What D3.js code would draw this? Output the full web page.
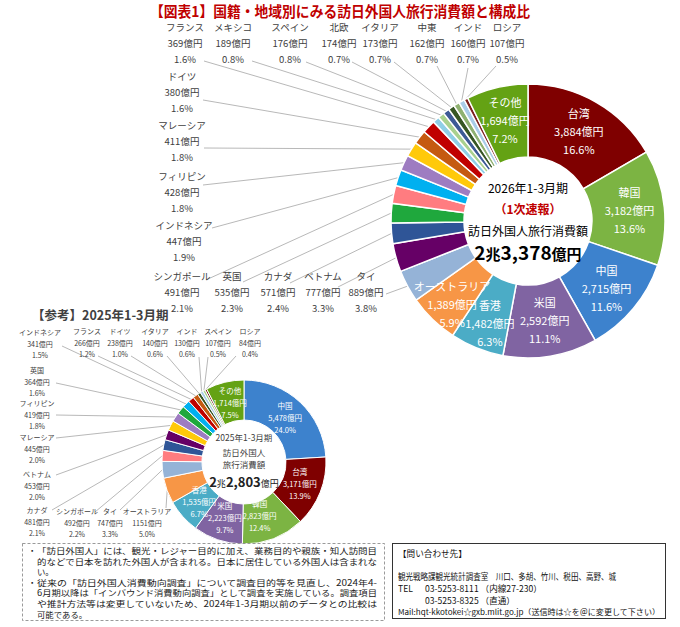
<!DOCTYPE html>
<html>
<head>
<meta charset="utf-8">
<script src="https://cdn.jsdelivr.net/npm/d3@7"></script>
<style>
html, body { margin: 0; padding: 0; background: #fff; }
svg { display: block; font-family: "Noto Sans CJK JP", "Noto Sans", sans-serif; }
</style>
</head>
<body>
<div id="wrap"></div>
<script>
// 2026年1-3月期（1次速報）
const names26 = ["台湾", "韓国", "中国", "米国", "香港", "オーストラリア", "タイ", "ベトナム", "カナダ", "英国",
    "シンガポール", "インドネシア", "フィリピン", "マレーシア", "ドイツ", "フランス", "メキシコ", "スペイン",
    "北欧", "イタリア", "中東", "インド", "ロシア", "その他"];
const values26 = [3884, 3182, 2715, 2592, 1482, 1389, 889, 777, 571, 535, 491, 447, 428, 411, 380, 369,
    189, 176, 174, 173, 162, 160, 107, 1694];
const total26 = 23378;

// 【参考】2025年1-3月期
const names25 = ["中国", "台湾", "韓国", "米国", "香港", "オーストラリア", "タイ", "シンガポール", "カナダ",
    "ベトナム", "マレーシア", "フィリピン", "英国", "インドネシア", "フランス", "ドイツ", "イタリア", "インド",
    "スペイン", "ロシア", "その他"];
const values25 = [5478, 3171, 2823, 2223, 1535, 1151, 747, 492, 481, 453, 445, 419, 364, 341, 266, 238,
    140, 130, 107, 84, 1714];
const total25 = 22803;

// one colour per country, same in both donuts
const countryColors = {
    "台湾": "#7F0000", "韓国": "#7CB443", "中国": "#3D82CD", "米国": "#8064A2", "香港": "#4BACC6",
    "オーストラリア": "#F79646", "タイ": "#95B3D7", "ベトナム": "#660066", "カナダ": "#2F5597",
    "英国": "#1FA83D", "シンガポール": "#FF7C80", "インドネシア": "#00B0F0", "フィリピン": "#9E7CC1",
    "マレーシア": "#FFC90A", "ドイツ": "#C55A11", "フランス": "#C00000", "メキシコ": "#8FCFE6",
    "スペイン": "#A9D18E", "北欧": "#3D5A95", "イタリア": "#375623", "中東": "#8FB171",
    "インド": "#A9CCE8", "ロシア": "#7B1E1E", "その他": "#64A214"
};

// outside label placement: [name, label x, first line y, leader start x, leader start y]
const outside26 = [
    ["フランス", 185, 28, 204, 61], ["メキシコ", 233, 28, 252, 61], ["スペイン", 290, 28, 306, 62],
    ["北欧", 339, 28, 352, 62], ["イタリア", 380, 28, 394, 62], ["中東", 427, 28, 437, 66],
    ["インド", 468, 28, 468, 68], ["ロシア", 507, 28, 496, 66],
    ["ドイツ", 182, 77, 203, 100], ["マレーシア", 182, 126, 204, 148], ["フィリピン", 182, 177, 203, 185],
    ["インドネシア", 184, 226, 212, 228],
    ["シンガポール", 182, 277, 208, 279], ["英国", 232, 277, 243, 282], ["カナダ", 278, 277, 290, 283],
    ["ベトナム", 323, 277, 338, 287], ["タイ", 366, 277, 386, 294]
];
const outside25 = [
    ["インドネシア", 40, 333, 62, 346], ["英国", 37, 371, 56, 383], ["フィリピン", 37, 404, 56, 415],
    ["マレーシア", 37, 438, 56, 438], ["ベトナム", 37, 475, 56, 475], ["カナダ", 37, 511, 52, 510],
    ["シンガポール", 77, 512, 95, 512], ["タイ", 110, 512, 120, 510], ["オーストラリア", 147, 512, 166, 508],
    ["フランス", 87, 332, 98, 356], ["ドイツ", 120, 332, 131, 356], ["イタリア", 155, 332, 167, 356],
    ["インド", 187, 332, 199, 357], ["スペイン", 218, 332, 208, 357], ["ロシア", 250, 332, 236, 356]
];
// nudges for some inside labels: [name, dx, dy]
const nudge26 = [["中国", 0, 3], ["香港", 0, 9], ["オーストラリア", -5, 11]];
const nudge25 = [["韓国", -6, -2]];

const notes = [
    ["・", "「訪日外国人」には、観光・レジャー目的に加え、業務目的や親族・知人訪問目"],
    ["", "的などで日本を訪れた外国人が含まれる。日本に居住している外国人は含まれな"],
    ["", "い。"],
    ["・", "従来の「訪日外国人消費動向調査」について調査目的等を見直し、2024年4-"],
    ["", "6月期以降は「インバウンド消費動向調査」として調査を実施している。調査項目"],
    ["", "や推計方法等は変更していないため、2024年1-3月期以前のデータとの比較は"],
    ["", "可能である。"]
];

const W = 680, H = 627;
const fmtComma = d3.format(",");
const fmtPct = d3.format(".1%");

const svg = d3.select("#wrap").append("svg")
    .attr("width", W).attr("height", H);

svg.append("text")
    .attr("x", 340).attr("y", 17)
    .attr("text-anchor", "middle")
    .attr("font-size", 14.5).attr("font-weight", "bold")
    .attr("fill", "#C00000")
    .attr("textLength", 380).attr("lengthAdjust", "spacingAndGlyphs")
    .text("【図表1】国籍・地域別にみる訪日外国人旅行消費額と構成比");

function drawDonut(o) {
    const data = o.names.map((n, i) => ({ name: n, value: o.values[i] }));
    const pie = d3.pie().sort(null).value(d => d.value);
    const arcs = pie(data);
    const arc = d3.arc().innerRadius(o.r0).outerRadius(o.r1);
    const edge = d3.arc().innerRadius(o.r1).outerRadius(o.r1);
    const mid = d3.arc().innerRadius(o.rLab).outerRadius(o.rLab);
    const shift = new Map(o.nudge.map(d => [d[0], [d[1], d[2]]]));

    const g = svg.append("g").attr("transform", `translate(${o.cx},${o.cy})`);

    // leader lines first so slices sit on top
    const outsideNames = new Set(o.outside.map(d => d[0]));
    const lines = svg.append("g").lower();
    o.outside.forEach(([name, lx, ly, sx, sy]) => {
        const a = arcs.find(d => d.data.name === name);
        const [ex, ey] = edge.centroid(a);
        lines.append("line")
            .attr("x1", sx).attr("y1", sy)
            .attr("x2", o.cx + ex).attr("y2", o.cy + ey)
            .attr("stroke", "#A6A6A6").attr("stroke-width", 0.8);
    });

    g.selectAll("path").data(arcs).join("path")
        .attr("d", arc)
        .attr("fill", d => countryColors[d.data.name])
        .attr("stroke", "#fff")
        .attr("stroke-width", o.strokeW);

    // labels inside the ring
    const inside = arcs.filter(d => !outsideNames.has(d.data.name));
    const pos = d => {
        const c = mid.centroid(d);
        const s = shift.get(d.data.name) || [0, 0];
        return [c[0] + s[0], c[1] + s[1]];
    };
    const tIn = g.selectAll("text.in").data(inside).join("text")
        .attr("class", "in")
        .attr("text-anchor", "middle")
        .attr("font-size", o.fIn)
        .attr("fill", "#fff");
    [d => d.data.name, d => fmtComma(d.data.value) + "億円", d => fmtPct(d.data.value / o.total)]
        .forEach((f, k) => {
            tIn.append("tspan")
                .attr("x", d => pos(d)[0])
                .attr("y", d => pos(d)[1] + (k - 1) * o.gapIn)
                .attr("dy", "0.35em")
                .text(f);
        });

    // labels outside
    o.outside.forEach(([name, lx, ly]) => {
        const i = o.names.indexOf(name);
        const t = svg.append("text")
            .attr("text-anchor", "middle")
            .attr("font-size", o.fOut)
            .attr("fill", "#404040");
        [name, o.values[i] + "億円", fmtPct(o.values[i] / o.total)].forEach((s, k) => {
            t.append("tspan").attr("x", lx).attr("y", ly + k * o.gapOut)
                .attr("dy", "0.35em").text(s);
        });
    });
}

drawDonut({
    names: names26, values: values26, total: total26,
    cx: 528, cy: 221, r0: 64, r1: 137, rLab: 102,
    strokeW: 1.5, fIn: 11, gapIn: 18, fOut: 9.5, gapOut: 16,
    outside: outside26, nudge: nudge26
});

drawDonut({
    names: names25, values: values25, total: total25,
    cx: 244, cy: 462, r0: 42, r1: 82, rLab: 60,
    strokeW: 1, fIn: 7.5, gapIn: 12, fOut: 7, gapOut: 11.5,
    outside: outside25, nudge: nudge25
});

// centre of the 2026 donut
const c1 = svg.append("g").attr("text-anchor", "middle").attr("fill", "#000");
c1.append("text").attr("x", 528).attr("y", 193).attr("font-size", 12).text("2026年1-3月期");
c1.append("text").attr("x", 528).attr("y", 214).attr("font-size", 12)
    .attr("font-weight", "bold").attr("fill", "#C00000").text("（1次速報）");
c1.append("text").attr("x", 528).attr("y", 236).attr("font-size", 12).text("訪日外国人旅行消費額");
const big1 = c1.append("text").attr("x", 528).attr("y", 260).attr("font-weight", "bold");
big1.append("tspan").attr("font-size", 19).text("2");
big1.append("tspan").attr("font-size", 15).text("兆");
big1.append("tspan").attr("font-size", 19).text(fmtComma(total26 % 10000));
big1.append("tspan").attr("font-size", 15).text("億円");

// 【参考】
svg.append("text").attr("x", 32).attr("y", 320)
    .attr("font-size", 12.5).attr("font-weight", "bold").attr("fill", "#404040")
    .text("【参考】2025年1-3月期");

const c2 = svg.append("g").attr("text-anchor", "middle").attr("fill", "#404040");
c2.append("text").attr("x", 244).attr("y", 441).attr("font-size", 8.5).text("2025年1-3月期");
c2.append("text").attr("x", 244).attr("y", 456).attr("font-size", 8.5).text("訪日外国人");
c2.append("text").attr("x", 244).attr("y", 468).attr("font-size", 8.5).text("旅行消費額");
const big2 = c2.append("text").attr("x", 244).attr("y", 487).attr("font-weight", "bold").attr("fill", "#222");
big2.append("tspan").attr("font-size", 13).text("2");
big2.append("tspan").attr("font-size", 9).attr("font-weight", "normal").text("兆");
big2.append("tspan").attr("font-size", 13).text(fmtComma(total25 % 10000));
big2.append("tspan").attr("font-size", 9).attr("font-weight", "normal").text("億円");

// notes box
svg.append("rect").attr("x", 22.5).attr("y", 543.5).attr("width", 362).attr("height", 77)
    .attr("fill", "none").attr("stroke", "#808080").attr("stroke-width", 0.8)
    .attr("stroke-dasharray", "3,2");
const nt = svg.append("g").attr("font-size", 8.4).attr("fill", "#222");
notes.forEach(([b, s], i) => {
    const y = 554 + i * 10.6;
    if (b) nt.append("text").attr("x", 28).attr("y", y).text(b);
    const t = nt.append("text").attr("x", 37).attr("y", y).text(s);
    if (s.length > 20) t.attr("textLength", 340).attr("lengthAdjust", "spacingAndGlyphs");
});

// contact box
svg.append("rect").attr("x", 392.5).attr("y", 543.5).attr("width", 273).attr("height", 75)
    .attr("fill", "none").attr("stroke", "#333").attr("stroke-width", 1);
const ct = svg.append("g").attr("font-size", 8.6).attr("fill", "#111");
ct.append("text").attr("x", 398).attr("y", 557).text("【問い合わせ先】");
ct.append("text").attr("x", 398).attr("y", 580).attr("textLength", 218).attr("lengthAdjust", "spacingAndGlyphs")
    .text("観光戦略課観光統計調査室　川口、多胡、竹川、税田、高野、城");
ct.append("text").attr("x", 398).attr("y", 592).text("TEL");
ct.append("text").attr("x", 425).attr("y", 592).text("03-5253-8111 （内線27-230）");
ct.append("text").attr("x", 425).attr("y", 604).text("03-5253-8325 （直通）");
ct.append("text").attr("x", 398).attr("y", 615).attr("font-size", 7.6)
    .attr("textLength", 262).attr("lengthAdjust", "spacingAndGlyphs")
    .text("Mail:hqt-kkotokei☆gxb.mlit.go.jp（送信時は☆を＠に変更して下さい）");
</script>
</body>
</html>
